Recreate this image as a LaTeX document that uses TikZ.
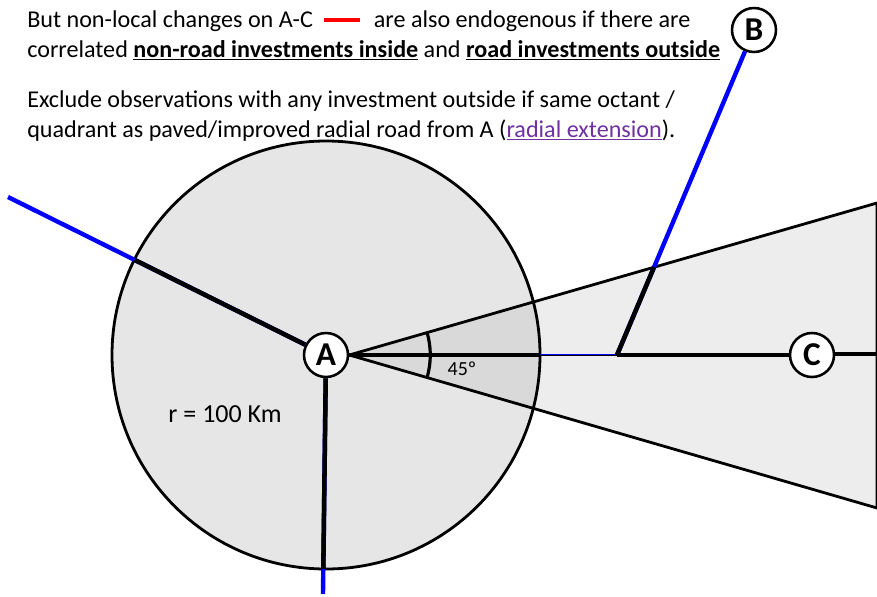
\documentclass[tikz,border=0pt]{standalone}
\usepackage{fontspec}
\setmainfont{Carlito}
\usepackage{xcolor}
\usetikzlibrary{positioning,calc}
\definecolor{linkpurple}{HTML}{7030A0}
\definecolor{zonegray}{HTML}{E6E6E6}
\definecolor{wedgegray}{HTML}{EDEDED}
\definecolor{overlapgray}{HTML}{D9D9D9}
\definecolor{roadblue}{HTML}{0000FF}
\tikzset{
	townnode/.style={draw, circle, fill=white, line width=1.9pt, minimum size=33pt,
		inner sep=0pt, font=\fontsize{25}{25}\selectfont\bfseries},
	bluerd/.style={line width=3.3pt, roadblue},
	pavedrd/.style={line width=3.4pt, black},
	edgeline/.style={line width=2.1pt, black},
	notetext/.style={align=left, inner sep=0pt, font=\fontsize{18.1}{22.5}\selectfont}
}
\newcommand{\ulbf}[1]{\underline{\textbf{#1}}}
\newcommand{\reddash}{\hspace{4pt}\textcolor{red}{\rule[4pt]{27.5pt}{3pt}}\hspace{6pt}}

\begin{document}
\begin{tikzpicture}[x=0.75pt, y=-0.75pt]
	\useasboundingbox (0,0) rectangle (877,596);
	
	%% -- Zone and wedge corners
	\coordinate (ctr) at (326,355);
	\coordinate (apex) at (348,355);
	\coordinate (wtop) at (877,203);
	\coordinate (wbot) at (877,508);
	
	%% -- Fills
	\fill[wedgegray] (apex) -- (wtop) -- (wbot) -- cycle;
	\fill[zonegray] (ctr) circle (214);
	\begin{scope}
		\clip (ctr) circle (214);
		\fill[overlapgray] (apex) -- (wtop) -- (wbot) -- cycle;
	\end{scope}
	\draw[edgeline] (ctr) circle (214);
	
	%% -- Towns
	\node[townnode] (a) at (ctr) {A};
	\node[townnode] (b) at (754,30) {B};
	\node[townnode] (c) at (812,355) {C};
	
	%% -- Free road ends
	\coordinate (lw) at (8,197);
	\coordinate (ls) at (323,594);
	\coordinate (le) at (877,355);
	\coordinate (jn) at (617,355);
	
	%% -- Wedge outline
	\draw[edgeline] (a.east) -- (wtop) -- (wbot) -- (a.east);
	
	%% -- Roads (blue), paved parts (black)
	\draw[bluerd] (a) -- (lw);
	\draw[bluerd] (a) -- (ls);
	\draw[bluerd] (jn) -- (b);
	\draw[roadblue, line width=1.6pt] (a.east) -- (c.west);
	\draw[roadblue, line width=1.6pt] (c.east) -- (le);
	\draw[black, line width=0.8pt] ([yshift=-0.5]a.east) -- ([yshift=-0.5]c.west);
	
	\draw[pavedrd] (a) -- ($(ctr)!160.5pt!(lw)$);
	\draw[pavedrd] (a) -- ($(ctr)!160.5pt!(ls)$);
	\draw[pavedrd] (a.east) -- ($(ctr)!160.5pt!(c)$);
	\draw[pavedrd] (jn) -- (c.west);
	\draw[pavedrd] ([yshift=0.6]c.east) -- ([yshift=0.6]le);
	\draw[pavedrd] (jn) -- (intersection of jn--b and a.east--wtop);
	
	%% -- Angle
	\draw[line width=2.4pt] ([shift={(-16:81)}]a.east) arc[start angle=-16, end angle=16, radius=81];
	\node[font=\fontsize{15}{15}\selectfont] (ang) at (462,369) {45º};
	
	%% -- Radius label
	\node[font=\fontsize{19.5}{19.5}\selectfont] (rad) at (225,414) {r = 100 Km};
	
	%% -- Notes
	\node[notetext, anchor=north west] (note1) at (27,10)
	{But non-local changes on A-C \reddash\ are also endogenous if there are\\
		correlated \ulbf{non-road investments inside} and \ulbf{road investments outside}};
	
	\node[notetext, anchor=north west] (note2) at (27,90)
	{Exclude observations with any investment outside if same octant /\\
		quadrant as paved/improved radial road from A (\textcolor{linkpurple}{\underline{radial extension}}).};
	
\end{tikzpicture}
\end{document}
